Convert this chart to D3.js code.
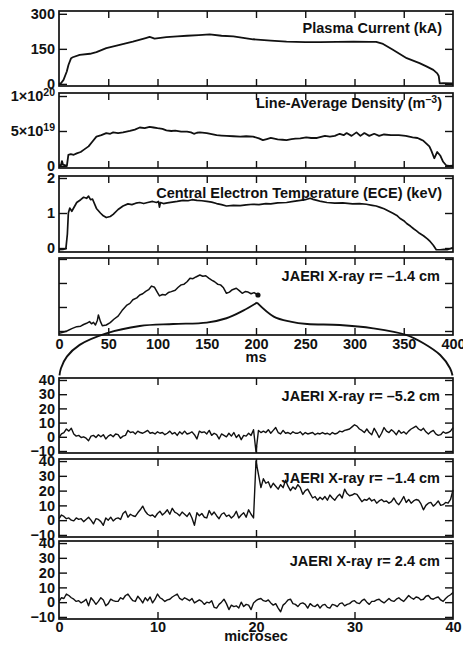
<!DOCTYPE html>
<html>
<head>
<meta charset="utf-8">
<script src="https://cdnjs.cloudflare.com/ajax/libs/d3/7.8.5/d3.min.js"></script>
<style>
    body { margin: 0; background: #fff; }
    svg text {
        font-family: "Liberation Sans", Arial, Helvetica, sans-serif;
        font-weight: bold;
        font-size: 14.5px;
        fill: #111;
    }
</style>
</head>
<body>
<div id="chart"></div>
<script>
// ---- shot overview, time in ms ----
var ipTime = [0, 2, 4.6, 7.9, 9.6, 12.3, 14, 21, 31.5, 38, 48, 58.5, 75, 88, 92, 95, 97, 103, 109, 120,
    130, 142, 153, 165, 177, 197, 215, 231, 250, 265, 282, 299, 315, 322, 329, 339, 346, 353, 366, 373,
    380, 384, 385.5, 386.5, 390, 400];
var ipValues = [0, 3, 17, 53, 81, 110, 114, 124, 129, 136, 153, 164, 181, 196, 201, 197, 194, 197, 200, 203,
    206, 209, 212, 206, 203, 191, 185, 181, 179, 179, 180, 181, 180, 180, 171, 146, 128, 110, 89, 75,
    60, 45, 34, 2, 3, 2];

// density in units of 1e19 m^-3
var neTime = [0, 2, 3, 4, 8, 9.5, 12, 15, 18, 22, 25, 30, 34, 38, 43, 48, 52, 55, 60, 65,
    72, 77, 82, 87, 92, 96, 100, 105, 109, 114, 118, 124, 130, 134, 137, 140, 143, 150, 155, 160,
    165, 170, 177, 184, 190, 197, 203, 207, 211, 215, 222, 227, 231, 236, 240, 245, 251, 256, 262, 266,
    270, 275, 280, 285, 289, 292, 297, 302, 306, 310, 315, 320, 325, 330, 337, 345, 352, 359, 364, 367,
    370, 373, 376, 378, 381, 384, 387, 390, 393, 396, 400];
var neValues = [0.1, 0.1, 0.7, 0.2, 0.0, 1.6, 1.7, 1.6, 1.8, 2.0, 2.3, 2.8, 3.5, 4.2, 4.4, 4.7, 4.6, 4.8, 4.7, 4.8,
    5.0, 5.2, 5.5, 5.4, 5.6, 5.5, 5.4, 5.3, 5.1, 5.0, 5.05, 4.9, 4.9, 4.8, 4.6, 4.75, 4.8, 4.7, 4.55, 4.4,
    4.35, 4.3, 4.25, 4.2, 4.25, 4.2, 3.95, 3.7, 3.85, 4.0, 3.8, 3.75, 3.7, 3.85, 3.9, 3.95, 4.1, 4.0, 4.0, 4.15,
    4.3, 4.2, 4.3, 4.6, 4.4, 4.7, 4.3, 4.8, 4.3, 4.7, 4.3, 4.6, 4.3, 4.5, 4.4, 4.4, 4.3, 4.1, 4.0, 3.8,
    3.6, 3.2, 2.8, 2.2, 1.1, 2.0, 1.5, 0.6, 0.1, 0.0, 0.05];

// central electron temperature, keV
var teTime = [0, 4, 7, 8.5, 9.5, 11, 13, 15, 18, 22, 25, 28, 30, 32, 34, 38, 42, 45, 48, 52,
    55, 60, 65, 70, 74, 78, 82, 86, 90, 95, 99, 101, 102, 103, 106, 110, 115, 120, 126, 131,
    135, 140, 145, 150, 155, 160, 165, 170, 177, 184, 190, 197, 203, 210, 215, 222, 231, 238, 245, 250,
    255, 258, 262, 266, 272, 280, 288, 298, 305, 312, 318, 322, 326, 330, 335, 339, 343, 346, 350, 353,
    357, 360, 363, 366, 370, 374, 377, 380, 383, 387, 391, 394, 397, 400];
var teValues = [-0.05, -0.04, -0.02, 0.4, 1.0, 1.14, 1.05, 1.15, 1.3, 1.38, 1.45, 1.42, 1.48, 1.38, 1.4, 1.13, 1.0, 0.92, 0.87, 0.9,
    0.96, 1.1, 1.2, 1.26, 1.24, 1.28, 1.3, 1.27, 1.3, 1.33, 1.3, 1.33, 1.17, 1.3, 1.27, 1.29, 1.31, 1.33, 1.36, 1.35,
    1.38, 1.36, 1.35, 1.33, 1.31, 1.27, 1.24, 1.2, 1.22, 1.21, 1.23, 1.25, 1.24, 1.27, 1.26, 1.29, 1.3, 1.33, 1.36, 1.38,
    1.42, 1.39, 1.36, 1.33, 1.3, 1.28, 1.29, 1.26, 1.27, 1.25, 1.22, 1.2, 1.16, 1.12, 1.05, 0.99, 0.93, 0.85, 0.78, 0.7,
    0.62, 0.55, 0.49, 0.42, 0.35, 0.26, 0.18, 0.08, -0.05, -0.05, -0.04, -0.05, -0.02, 0.01];

// JAERI soft x-ray r = -1.4 cm, arbitrary units, ends at the 200 ms marker
var sxTime = [0, 4, 8, 13, 18, 22, 25, 28, 31, 33, 35, 37, 39, 40, 42, 44, 48, 52, 56, 60,
    64, 69, 72, 75, 79, 82, 85, 88, 91, 94, 97, 100, 102, 105, 108, 111, 114, 118, 121, 124,
    127, 130, 133, 136, 139, 143, 146, 149, 152, 155, 158, 161, 164, 167, 170, 173, 176, 180, 183, 186,
    189, 192, 195, 198, 202];
var sxValues = [-0.1, -0.05, 0, 0.1, 0.18, 0.2, 0.27, 0.32, 0.39, 0.3, 0.36, 0.25, 0.45, 0.67, 0.4, 0.22, 0.25, 0.35, 0.5, 0.62,
    0.85, 1.08, 1.15, 1.3, 1.38, 1.5, 1.55, 1.65, 1.72, 1.87, 1.82, 1.6, 1.46, 1.52, 1.5, 1.6, 1.64, 1.7, 1.82, 1.92,
    1.95, 2.05, 2.2, 2.18, 2.25, 2.33, 2.28, 2.3, 2.2, 2.12, 2.05, 1.95, 1.92, 1.8, 1.57, 1.62, 1.72, 1.78, 1.68, 1.57,
    1.64, 1.62, 1.55, 1.6, 1.5];

// magnifier outline drawn over the x-ray panel (ms, x-ray panel units)
var lensTime = [0.5, 2, 8, 21, 48, 82, 116, 150, 170, 187, 201, 218, 235, 252, 285, 319, 353, 370, 387, 397, 399.5];
var lensValues = [-1.85, -1.55, -1.07, -0.58, -0.1, 0.21, 0.29, 0.35, 0.53, 0.85, 1.18, 0.6, 0.39, 0.29, 0.25, 0.11, -0.17, -0.51, -1.0, -1.55, -1.85];

// ---- fast x-ray channels around 200 ms, 0.25 microsec sampling ----
var fastStep = 0.25;
var sxMinus52 = [
    -0.5, 2, 3, 5.5, 4, 6, 2, 0.5,
    1, -0.5, 0, -1, -2.8, 0.5, 1, -0.5,
    1.5, 0, 1.5, -1.5, 0.5, 1.5, 0, 2,
    1.5, -1, 0.5, 1, 4.5, 3, 3.5, 2,
    4, 3, 2.5, 3.5, 4.5, 2.5, 3, 2,
    3.5, 2.5, 3, 1.5, 2.5, 4, 2, 3,
    1, 3.5, 2, 4, 2, 2.5, 3.5, 1.5,
    -1.5, 4, 3, 3.5, 2, 4.5, 1, 2.5,
    1.5, -1.5, 2, 1, 0, 2.5, 0.5, 3,
    -0.5, 1.5, -2, 1, 0.5, 2.5, 1, 5,
    -10.5, 4.5, 3, 4, 3, 5, 2.5, 4.5,
    6.5, 3, 2, 4.5, 2.5, 3, 2, 3.5,
    2.5, 2.5, 3.5, 1.5, 3, 2, 2.5, 3,
    1.5, 2.5, 2, 3, 2, 2.5, 1.5, 3,
    2, 2.5, 4, 3.5, 4.5, 5, 5.5, 7,
    8.5, 7.5, 5.5, 4.5, 3, 5.5, 3, 1.5,
    6, 3, -0.5, 2.5, 6.5, 4, 3, 5,
    3.5, 1.5, 4.5, 2.5, 3.5, 2, 4, 5.5,
    6.5, 7.5, 5.5, 4.5, 6, 3.5, 2, 3.5,
    4.5, 2, 1, 1.5, 3.5, 2.5, 3, 4,
    6.5];
var sxMinus14 = [
    1, 3.5, 2.5, 1, 1.5, 0, -0.5, 1.5,
    0.5, 1, -1, 0.5, 2, 0, -2.5, 1,
    0.5, -1, -3.5, 1.5, 0, 2, -0.5, 1,
    1.5, 0.5, 4.5, 6, 2, 4, 3, 2.5,
    5, 7, 9.5, 6, 4, 3, 3.5, 2,
    4.5, 6, 3.5, 5, 7, 4, 8, 5.5,
    4.5, 3, 5.5, 4, 2.5, 5, 1.5, -3.5,
    5, 3, 4.5, 2, 1.5, 6.5, 3.5, 5.5,
    3, 1, 4, 5, 2.5, 3.5, 1.5, 3,
    6, 1.5, 3.5, 5, 2, 7, 4, 1.5,
    40, 31, 22, 28, 25, 26, 22, 25,
    23, 21, 24, 22, 27, 23, 20, 22.5,
    21, 24, 22, 17.5, 20, 21, 18, 15,
    16, 13.5, 15.5, 14, 16, 13.5, 17, 15,
    13.5, 16, 17.5, 15, 21, 18, 16.5, 17,
    18, 17.5, 15, 12.5, 14, 13.5, 15, 13,
    14, 11.5, 13, 14, 12.5, 13, 11.5, 12.5,
    15, 12, 10.5, 13, 16, 12, 14, 11.5,
    13, 14, 13.5, 11, 7, 10, 11.5, 12,
    9.5, 11, 13, 10, 10.5, 12, 11.5, 14,
    20.5];
var sxPlus24 = [
    0.5, 3, 2.5, 5.5, 4.5, 3, 2, 0.5,
    1, -0.5, 0.5, 2, -2.5, 3, 1, -1.5,
    0.5, 3, 1.5, -2.5, -1, 2, 1, 0.5,
    0.5, 3, 2, 4.5, 5.5, 3, 1, 0.5,
    4, 2, -0.5, 3, 1, 3.5, -0.5, 2,
    5.5, 3, 2, 0.5, 1.5, 2, 3.5, 4.5,
    5.5, 2.5, 1.5, 3, 2, 1, 2.5, -0.5,
    0.5, 1.5, 0.5, -1.5, 0, -0.5, 1, -3.5,
    -4, -1.5, 0, 2, -1, -5, -2, -3,
    -2.5, -4, 0, -3, -1.5, -2, -5, -0.5,
    1, 2, 2.5, 1, 0.5, 1.5, -0.5, -2,
    -1, -4, -6.5, -2, -0.5, 1.5, 2, -1,
    -1.5, -3, -1, -0.5, -1.5, -4, -1, -2.5,
    -3, -1.5, -4, -2, -1.5, -3.5, -4, -1.5,
    -2, -3, -1, -0.5, -2.5, -1.5, -1, 0.5,
    1, -0.5, -1, 1, 2, 0, -1.5, 0.5,
    0.5, 1.5, 2, 0.5, -0.5, 1, 2.5, 1,
    0.5, 2, 3, 1.5, 0.5, 2.5, 4.5, 3,
    2, 3.5, 3, 1.5, 2, 4, 4.5, 2.5,
    2, 3, 3.5, 1.5, 0.5, 2.5, 4, 5,
    6.5];

var msTicks = [0, 50, 100, 150, 200, 250, 300, 350, 400];
var usTicks = [0, 10, 20, 30, 40];
var fastTicks = [-10, 0, 10, 20, 30, 40];

// ---- layout ----
var width = 463, height = 646;
var left = 59, right = 453;

var svg = d3.select("#chart").append("svg")
    .attr("width", width)
    .attr("height", height);

var xMs = d3.scaleLinear().domain([0, 400]).range([left, right]);
var xUs = d3.scaleLinear().domain([0, 40]).range([left, right]);

// boxed panel with inward ticks on all four sides
function addPanel(top, bottom, x, yDomain, yTicks, yFormat, xTicks) {
    var y = d3.scaleLinear().domain(yDomain).range([bottom, top]);
    var g = svg.append("g");

    g.append("g")
        .attr("class", "y-left")
        .attr("transform", "translate(" + left + ",0)")
        .call(d3.axisLeft(y).tickValues(yTicks).tickSize(-8).tickPadding(4)
            .tickFormat(yFormat || (function() { return ""; })));
    g.append("g")
        .attr("transform", "translate(" + right + ",0)")
        .call(d3.axisRight(y).tickValues(yTicks).tickSize(-8).tickFormat(""));
    g.append("g")
        .attr("transform", "translate(0," + top + ")")
        .call(d3.axisTop(x).tickValues(xTicks).tickSize(-7).tickFormat(""));
    g.append("g")
        .attr("transform", "translate(0," + bottom + ")")
        .call(d3.axisBottom(x).tickValues(xTicks).tickSize(-7).tickFormat(""));

    g.selectAll(".domain").remove();
    g.selectAll(".tick line")
        .attr("stroke", "#111")
        .attr("stroke-width", 1.4);

    g.append("rect")
        .attr("x", left)
        .attr("y", top)
        .attr("width", right - left)
        .attr("height", bottom - top)
        .attr("fill", "none")
        .attr("stroke", "#111")
        .attr("stroke-width", 1.7);

    return { g: g, y: y, top: top, bottom: bottom };
}

function addTitle(p, xEnd, dy, text) {
    return p.g.append("text")
        .attr("x", xEnd)
        .attr("y", p.top + dy)
        .attr("text-anchor", "end")
        .text(text);
}

function drawTrace(p, x, times, values, width) {
    var line = d3.line()
        .x(function(d) { return x(d[0]); })
        .y(function(d) { return p.y(d[1]); });
    p.g.append("path")
        .datum(d3.zip(times, values))
        .attr("fill", "none")
        .attr("stroke", "#111")
        .attr("stroke-width", width)
        .attr("stroke-linejoin", "round")
        .attr("d", line);
}

function labelAxis(p, x, ticks, pad) {
    var a = p.g.append("g")
        .attr("transform", "translate(0," + p.bottom + ")")
        .call(d3.axisBottom(x).tickValues(ticks).tickSize(0).tickPadding(pad).tickFormat(d3.format("d")));
    a.select(".domain").remove();
}

var interiorMs = msTicks.slice(1, -1);
var interiorUs = usTicks.slice(1, -1);

// Plasma current
var p1 = addPanel(11, 86, xMs, [-9, 312], [0, 150, 300], d3.format("d"), interiorMs);
drawTrace(p1, xMs, ipTime, ipValues, 1.8);
addTitle(p1, 442, 22, "Plasma Current (kA)");

// Line-average density
var p2 = addPanel(93, 168, xMs, [-0.29, 10.43], [0, 5, 10], null, interiorMs);
var densLabels = { 0: ["0", ""], 5: ["5\u00d710", "19"], 10: ["1\u00d710", "20"] };
p2.g.select(".y-left").selectAll(".tick text")
    .each(function(d) {
        var t = d3.select(this).text(null);
        t.append("tspan").text(densLabels[d][0]);
        t.append("tspan").attr("dy", -5).style("font-size", "10.5px").text(densLabels[d][1]);
    });
drawTrace(p2, xMs, neTime, neValues, 1.8);
var t2 = addTitle(p2, 442, 15, "Line-Average Density (m");
t2.append("tspan").attr("dy", -5).style("font-size", "10.5px").text("\u20133");
t2.append("tspan").attr("dy", 5).text(")");

// Central electron temperature
var p3 = addPanel(176, 252, xMs, [-0.114, 2.057], [0, 1, 2], d3.format("d"), interiorMs);
drawTrace(p3, xMs, teTime, teValues, 1.7);
addTitle(p3, 442, 22, "Central Electron Temperature (ECE) (keV)");

// Soft x-ray overview
var p4 = addPanel(258, 335, xMs, [-0.167, 3.04], [0, 1, 2, 3], null, interiorMs);
drawTrace(p4, xMs, sxTime, sxValues, 1.5);
p4.g.append("circle")
    .attr("cx", xMs(sxTime[sxTime.length - 1]))
    .attr("cy", p4.y(sxValues[sxValues.length - 1]))
    .attr("r", 2.6)
    .attr("fill", "#111");
addTitle(p4, 440, 23, "JAERI X-ray r= \u20131.4 cm");
labelAxis(p4, xMs, msTicks, 4);
svg.append("text")
    .attr("x", xMs(200))
    .attr("y", 362)
    .attr("text-anchor", "middle")
    .text("ms");

// magnifier: two arcs meeting at 200 ms
var lensLine = d3.line()
    .x(function(d) { return xMs(d[0]); })
    .y(function(d) { return p4.y(d[1]); })
    .curve(d3.curveCatmullRom.alpha(0.5));
var lensPts = d3.zip(lensTime, lensValues);
var peak = d3.maxIndex(lensValues);
[lensPts.slice(0, peak + 1), lensPts.slice(peak)].forEach(function(part) {
    svg.append("path")
        .datum(part)
        .attr("fill", "none")
        .attr("stroke", "#111")
        .attr("stroke-width", 1.9)
        .attr("d", lensLine);
});

// fast channels
var fastTime = sxMinus52.map(function(d, i) { return i * fastStep; });
var fastFmt = function(d) { return d3.format("d")(d); };

var p5 = addPanel(378, 453, xUs, [-11.4, 41.4], fastTicks, fastFmt, interiorUs);
drawTrace(p5, xUs, fastTime, sxMinus52, 1.4);
addTitle(p5, 440, 23, "JAERI X-ray r= \u20135.2 cm");

var p6 = addPanel(459, 537, xUs, [-11.4, 41.4], fastTicks, fastFmt, interiorUs);
drawTrace(p6, xUs, fastTime, sxMinus14, 1.4);
addTitle(p6, 440, 24, "JAERI X-ray r= \u20131.4 cm");

var p7 = addPanel(541, 619, xUs, [-11.4, 41.4], fastTicks, fastFmt, interiorUs);
drawTrace(p7, xUs, fastTime, sxPlus24, 1.4);
addTitle(p7, 440, 25, "JAERI X-ray r= 2.4 cm");
labelAxis(p7, xUs, usTicks, 3);
svg.append("text")
    .attr("x", xUs(20))
    .attr("y", 641)
    .attr("text-anchor", "middle")
    .text("microsec");
</script>
</body>
</html>
